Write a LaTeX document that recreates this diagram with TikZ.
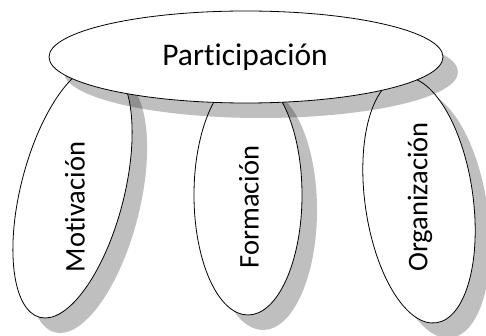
\documentclass[tikz,border=0pt]{standalone}
\usepackage{fontspec}
\setmainfont{Carlito}[Ligatures={NoCommon}]
\usetikzlibrary{shapes.geometric,shadows}
\begin{document}
\begin{tikzpicture}[x=1pt,y=-1pt,
  oval/.style={ellipse, draw=black, line width=0.8pt, fill=white, inner sep=0pt,
    drop shadow={shadow xshift=15pt, shadow yshift=-15pt, fill=black, opacity=0.25}},
  lowtext/.style={rotate=90, inner sep=0pt, font=\fontsize{28.5}{34}\selectfont},
  toptext/.style={inner sep=0pt, font=\fontsize{31.5}{37}\selectfont}]
\useasboundingbox (0,0) rectangle (486,336);
% lower ovals
\node[oval, rotate=75.5, minimum width=261pt, minimum height=103pt] (mot) at (72.5,191) {};
\node[oval, rotate=90, minimum width=240pt, minimum height=108pt] (for) at (248,195) {};
\node[oval, rotate=98, minimum width=248pt, minimum height=108pt] (org) at (419,200) {};
\node[lowtext] (motT) at (75,207) {Motivación};
\node[lowtext] (forT) at (249,207) {Formación};
\node[lowtext] (orgT) at (420,197) {Organización};
% top oval
\node[oval, minimum width=394pt, minimum height=92pt] (par) at (246,57) {};
\node[toptext] (parT) at (245,57) {Participación};
\end{tikzpicture}
\end{document}
